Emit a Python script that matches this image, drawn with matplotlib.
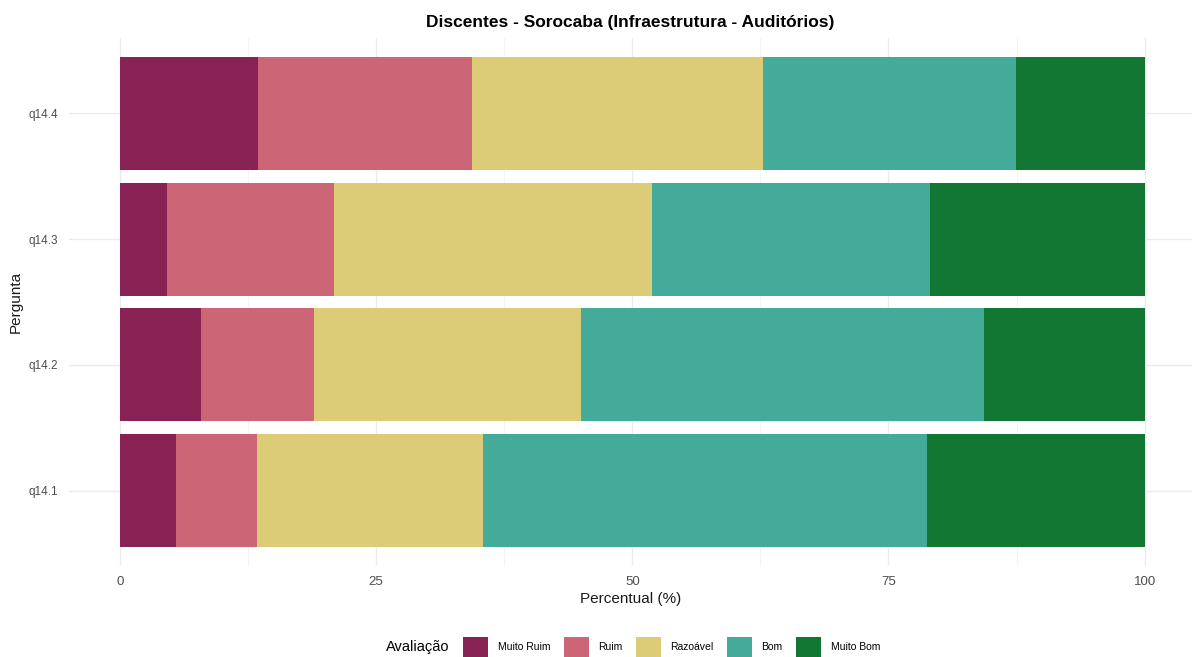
#Imports
import matplotlib
matplotlib.use("Agg")
import matplotlib.pyplot as plt
from matplotlib.patches import Patch
from matplotlib.offsetbox import HPacker

# data (percent per answer)
perguntas = ["q14.1", "q14.2", "q14.3", "q14.4"]
niveis = ["Muito Ruim", "Ruim", "Razoável", "Bom", "Muito Bom"]
muito_ruim = [5.5, 7.9, 4.6, 13.5]
ruim = [7.9, 11.0, 16.3, 20.9]
razoavel = [22.0, 26.1, 31.0, 28.4]
bom = [43.4, 39.3, 27.2, 24.6]
muito_bom = [21.2, 15.7, 20.9, 12.6]
cores = ["#882255", "#CC6677", "#DDCC77", "#44AA99", "#117733"]

plt.rcParams['font.family'] = ['Liberation Sans', 'DejaVu Sans']

fig = plt.figure(figsize=(11.92, 6.57), dpi=100)
ax = fig.add_axes([68.75 / 1192, 91 / 657, 1123 / 1192, 528 / 657])

ypos = list(range(1, len(perguntas) + 1))
left = [0.0] * len(perguntas)
for nome, vals, cor in zip(niveis, [muito_ruim, ruim, razoavel, bom, muito_bom], cores):
    ax.barh(ypos, vals, left=left, height=0.9, color=cor, zorder=2)
    left = [a + b for a, b in zip(left, vals)]

ax.set_xlim(-5, 104.6)
ax.set_ylim(0.4, 4.6)
ax.set_xticks([0, 25, 50, 75, 100])
ax.set_xticks([12.5, 37.5, 62.5, 87.5], minor=True)
ax.set_yticks(ypos)
ax.set_yticklabels(perguntas)
ax.grid(True, which='major', color='#EBEBEB', linewidth=1.0, zorder=0)
ax.grid(True, which='minor', axis='x', color='#F2F2F2', linewidth=0.6, zorder=0)
ax.tick_params(axis='x', which='both', length=0, colors='#4D4D4D', labelsize=9.5, pad=7)
ax.tick_params(axis='y', which='both', length=0, colors='#4D4D4D', labelsize=8.5, pad=8)
for s in ax.spines.values():
    s.set_visible(False)

ax.set_xlabel("Percentual (%)", fontsize=11, color='#1A1A1A', labelpad=3)
ax.set_ylabel("Pergunta", fontsize=11, color='#1A1A1A', labelpad=4)
fig.text(0.5 * (68.75 + 1191.75) / 1192, 1 - 22 / 657,
         "Discentes - Sorocaba (Infraestrutura - Auditórios)",
         ha='center', va='center', fontsize=12.5, fontweight='bold')

handles = [Patch(facecolor=c, edgecolor='none') for c in cores]
leg = fig.legend(handles, niveis, title="Avaliação", loc='center',
                 bbox_to_anchor=(633 / 1192, 1 - 647 / 657), ncol=5,
                 frameon=False, fontsize=7.5, handlelength=2.4, handleheight=2.6,
                 columnspacing=1.3, handletextpad=0.9)
leg.get_title().set_fontsize(10.5)
# title on the left of the keys, like ggplot
box = leg._legend_box
box._children = [HPacker(children=box._children, align="center", pad=0, sep=10)]

fig.savefig("out.png", dpi=100, facecolor='white')
